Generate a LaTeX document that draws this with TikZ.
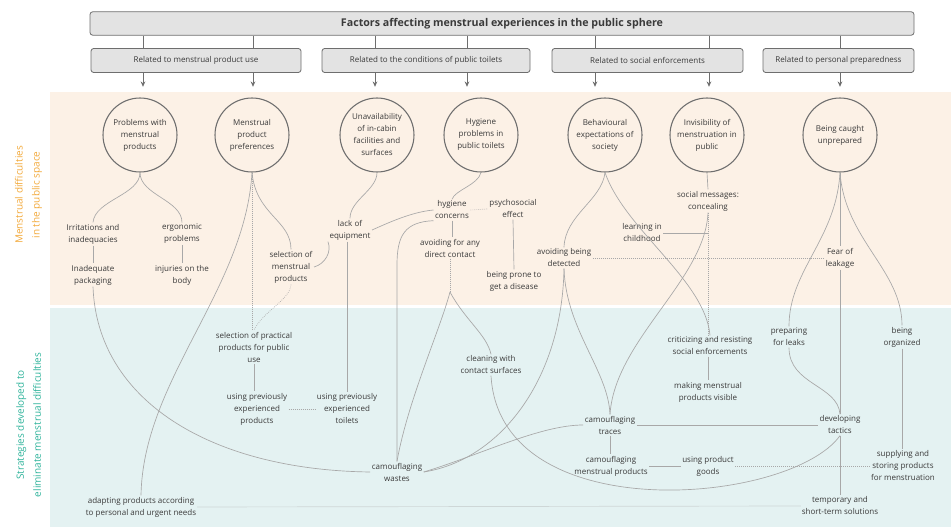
\documentclass[tikz,border=0pt]{standalone}
\usepackage{fontspec}
\setmainfont{Open Sans}
\usetikzlibrary{arrows.meta}
\definecolor{pinkbg}{HTML}{FCF1E6}
\definecolor{bluebg}{HTML}{E4F2F2}
\definecolor{conc}{HTML}{A8A8A8}
\definecolor{boxfill}{HTML}{E3E3E3}
\definecolor{boxdraw}{HTML}{6E6E6E}
\definecolor{orangelab}{HTML}{F2A93B}
\definecolor{teallab}{HTML}{2FB39B}
\definecolor{txt}{HTML}{3A3A3A}
\begin{document}
\begin{tikzpicture}[x=0.75pt,y=-0.75pt,
 lbl/.style={font=\fontsize{6}{9}\selectfont, align=center, text=txt, inner sep=1pt},
 circ/.style={circle, draw=boxdraw, line width=0.8pt, minimum size=55.5pt, inner sep=0pt, align=center, font=\fontsize{6}{9}\selectfont, text=txt},
 cat/.style={draw=boxdraw, fill=boxfill, rounded corners=2pt, line width=0.6pt, minimum height=18pt, inner sep=0pt, font=\fontsize{6}{8}\selectfont, text=txt},
 con/.style={draw=conc, line width=0.5pt},
 dot/.style={con, densely dotted},
 tie/.style={draw=boxdraw, line width=0.6pt},
 arr/.style={tie, -{Stealth[length=4pt,width=3.5pt]}},
 side/.style={rotate=90, align=center, font=\fontsize{7.5}{12.75}\selectfont}
]
\useasboundingbox (0,0) rectangle (951,527);
\fill[pinkbg] (50,92) rectangle (951,305);
\fill[bluebg] (50,308) rectangle (951,527);

\node[side, text=orangelab] (labA) at (28.5,195) {Menstrual difficulties\\in the public space};
\node[side, text=teallab] (labB) at (28.5,425) {Strategies developed to\\eliminate menstrual difficulties};

% header
\node[cat, minimum width=618pt, minimum height=17.5pt, font=\bfseries\fontsize{8}{10}\selectfont] (title) at (502,23.5) {Factors affecting menstrual experiences in the public sphere};
\node[cat, minimum width=157.5pt] (c1) at (196,60.5) {Related to menstrual product use};
\node[cat, minimum width=156pt] (c2) at (426,60.5) {Related to the conditions of public toilets};
\node[cat, minimum width=143.25pt] (c3) at (647.5,60.5) {Related to social enforcements};
\node[cat, minimum width=113.25pt] (c4) at (838.5,60.5) {Related to personal preparedness};

% circles
\node[circ] (k1) at (140,135) {Problems with\\menstrual\\products};
\node[circ] (k2) at (252,135) {Menstrual\\product\\preferences};
\node[circ] (k3) at (377,135) {Unavailability\\of in-cabin\\facilities and\\surfaces};
\node[circ] (k4) at (481,135) {Hygiene\\problems in\\public toilets};
\node[circ] (k5) at (605,135) {Behavioural\\expectations of\\society};
\node[circ] (k6) at (707,135) {Invisibility of\\menstruation in\\public};
\node[circ] (k7) at (840,135) {Being caught\\unprepared};

\coordinate (xa1) at (143,0);
\coordinate (xa2) at (253,0);
\coordinate (xa3) at (375,0);
\coordinate (xa4) at (467,0);
\coordinate (xa5) at (595,0);
\coordinate (xa6) at (709,0);
\coordinate (xa7) at (840,0);
\foreach \i/\c in {1/c1,2/c1,3/c2,4/c2,5/c3,6/c3,7/c4}{
  \draw[tie] (title.south -| xa\i) -- (\c.north -| xa\i);
  \draw[arr, shorten >=8pt] (\c.south -| xa\i) -- (k\i.north -| xa\i);
}

% difficulties
\node[lbl] (irr) at (93,234) {Irritations and\\inadequacies};
\node[lbl] (erg) at (182,234) {ergonomic\\problems};
\node[lbl] (pack) at (93,275) {Inadequate\\packaging};
\node[lbl] (inj) at (182,275) {injuries on the\\body};
\node[lbl] (sel) at (291,267) {selection of\\menstrual\\products};
\node[lbl] (lack) at (350,230) {lack of\\equipment};
\node[lbl] (hyg) at (452,210) {hygiene\\concerns};
\node[lbl] (avd) at (450,248) {avoiding for any\\direct contact};
\node[lbl] (psy) at (513,209) {psychosocial\\effect};
\node[lbl] (dis) at (514,281) {being prone to\\get a disease};
\node[lbl] (det) at (564,258) {avoiding being\\detected};
\node[lbl] (learn) at (642,233) {learning in\\childhood};
\node[lbl] (soc) at (708,201) {social messages:\\concealing};
\node[lbl] (fear) at (840,258) {Fear of\\leakage};

% strategies
\node[lbl] (prep) at (789,337) {preparing\\for leaks};
\node[lbl] (org) at (902,337) {being\\organized};
\node[lbl] (crit) at (710,346) {criticizing and resisting\\social enforcements};
\node[lbl] (vis) at (708,392) {making menstrual\\products visible};
\node[lbl] (sel2) at (254,347) {selection of practical\\products for public\\use};
\node[lbl] (prod) at (257,409) {using previously\\experienced\\products};
\node[lbl] (toil) at (347,409) {using previously\\experienced\\toilets};
\node[lbl] (clean) at (491,365) {cleaning with\\contact surfaces};
\node[lbl] (trace) at (610,425) {camouflaging\\traces};
\node[lbl] (cmp) at (611,466) {camouflaging\\menstrual products};
\node[lbl] (goods) at (708,466) {using product\\goods};
\node[lbl] (wastes) at (397,472) {camouflaging\\wastes};
\node[lbl] (tact) at (840,425) {developing\\tactics};
\node[lbl] (supp) at (903,466) {supplying and\\storing products\\for menstruation};
\node[lbl] (temp) at (840,506) {temporary and\\short-term solutions};
\node[lbl] (adapt) at (141,507) {adapting products according\\to personal and urgent needs};

% connectors
\draw[con] (k1.south) .. controls (140,195) and (95,200) .. (irr.north);
\draw[con] (k1.south) .. controls (140,195) and (182,200) .. (erg.north);
\draw[con] (irr.south) -- (pack.north);
\draw[con] (erg.south) -- (inj.north);
\draw[con] (pack.south) .. controls (97,400) and (210,470) .. (wastes.west);

\draw[con] (k2.south) .. controls (245,290) and (143,380) .. (adapt.north);
\draw[dot] (k2.south) -- (sel2.north -| k2.south);
\draw[con] (k2.south) .. controls (256,215) and (291,220) .. (sel.north);
\draw[dot] (sel.south) .. controls (290,300) and (262,312) .. (sel2.north);
\draw[con] (sel2.south) -- (sel2.south |- prod.north);
\draw[dot] (prod.east) -- (toil.west);

\draw[con] (k3.south) .. controls (377,190) and (350,200) .. (lack.north);
\draw[con] (lack.south west) .. controls (332,252) and (325,264) .. (sel.east);
\draw[con] (toil.north |- lack.south) -- (toil.north);
\draw[con] (hyg.west) .. controls (412,212) and (390,222) .. (lack.east);
\draw[con] (hyg.south west) .. controls (405,222) and (397,235) .. (397,265) -- (wastes.north);

\draw[con] (k4.south) .. controls (478,185) and (455,190) .. (hyg.north);
\draw[dot] (hyg.east) -- (psy.west);
\draw[con] (hyg.south) -- (hyg.south |- avd.north);
\draw[con] (psy.south) -- (dis.north);
\coordinate (avb) at (450,292);
\draw[dot] (avd.south) -- (avb);
\draw[con] (avb) .. controls (440,330) and (408,400) .. (wastes.north);
\draw[con] (avb) .. controls (465,320) and (487,335) .. (clean.north);
\draw[con] (clean.south) .. controls (500,530) and (790,505) .. (tact.south);

\draw[con] (k5.south) .. controls (602,200) and (565,215) .. (det.north);
\draw[con] (k5.south) .. controls (625,230) and (705,280) .. (crit.north);
\draw[dot] (det.east) -- (fear.west);
\draw[con] (det.south) .. controls (562,380) and (500,460) .. (wastes.east);
\draw[con] (det.south) .. controls (566,330) and (608,370) .. (trace.north);
\draw[con] (wastes.east) .. controls (480,455) and (540,425) .. (trace.west);

\draw[con] (k6.south) -- (soc.north);
\draw[con] (learn.east) -- (learn.east -| soc.south);
\draw[dot] (soc.south) -- (soc.south |- crit.north);
\draw[con] (crit.south -| vis.north) -- (vis.north);
\draw[con] (soc.south) .. controls (705,280) and (615,340) .. (trace.north);

\draw[con] (k7.south) -- (fear.north);
\draw[con] (k7.south) .. controls (836,240) and (789,270) .. (prep.north);
\draw[con] (k7.south) .. controls (845,240) and (902,270) .. (org.north);
\draw[con] (fear.south) -- (tact.north);
\draw[con] (tact.south) -- (temp.north);
\draw[con] (prep.south) .. controls (789,385) and (838,385) .. (tact.north);
\draw[con] (org.south) -- (supp.north -| org.south);
\draw[con] (trace.east) -- (tact.west);
\draw[con] (trace.south) -- (trace.south |- cmp.north);
\draw[con] (cmp.east) -- (goods.west);
\draw[dot] (goods.east) -- (supp.west);
\draw[dot] (adapt.east) -- (temp.west);
\end{tikzpicture}
\end{document}
